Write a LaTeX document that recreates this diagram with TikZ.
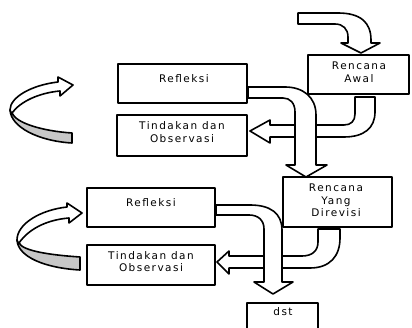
\documentclass[tikz,border=0pt]{standalone}
\usepackage{fontspec}
\setmainfont{DejaVu Sans}[LetterSpace=14]
\begin{document}
\begin{tikzpicture}[x=1pt,y=-1pt,line width=1.6pt,line join=round,
  boxnode/.style={draw,fill=white,inner sep=0pt,line width=1.6pt},
  txt/.style={align=center,inner sep=0pt,text=black,font=\fontsize{10.5}{12.5}\selectfont},
  blk/.style={draw,fill=white,line width=1.6pt},
  back/.style={draw,fill=black!22,line width=1.6pt}]
\useasboundingbox (0,0) rectangle (412,328);
\begin{scope}
\clip (0,0) rectangle (412,328);
% boxes
\node[boxnode,minimum width=101,minimum height=39] (ra) at (358.5,74.5) {};
\node[boxnode,minimum width=129,minimum height=39] (r1) at (182.5,83.5) {};
\node[boxnode,minimum width=130,minimum height=41] (t1) at (182,135.5) {};
\node[boxnode,minimum width=109,minimum height=50] (rd) at (337.5,202) {};
\node[boxnode,minimum width=128,minimum height=39] (r2) at (151,207.5) {};
\node[boxnode,minimum width=128,minimum height=40] (t2) at (151,265) {};
\node[boxnode,minimum width=71,minimum height=40,anchor=north] (ds) at (282.5,302) {};
% texts
\node[txt] (rat) at (359,72.5) {Rencana\\Awal};
\node[txt] (r1t) at (184,79) {Refleksi};
\node[txt] (t1t) at (182,132) {Tindakan dan\\Observasi};
\node[txt] (rdt) at (336,200.5) {Rencana\\Yang\\Direvisi};
\node[txt] (r2t) at (151,203) {Refleksi};
\node[txt] (t2t) at (151,261.5) {Tindakan dan\\Observasi};
\node[txt] (dst) at (283,312) {dst};
% arrow into Rencana Awal
\draw[blk] (298,13) -- (338,13) .. controls (360,13) and (371,22) .. (371,40) -- (371,43) -- (380,43) -- (361,53) -- (341,43) -- (348,43) -- (348,37) .. controls (348,29) and (343,24) .. (335,24) -- (298,24) -- cycle;
% Rencana Awal -> Tindakan 1
\draw[blk] (355,97) -- (355,114) .. controls (355,121) and (351,125) .. (344,125) -- (270,125) -- (270,120) -- (250,131) -- (270,143) -- (270,137) -- (344,137) .. controls (364,137) and (375,128) .. (375,112) -- (375,97) -- cycle;
% Refleksi 1 -> Rencana Yang Direvisi
\draw[blk] (248,87) -- (285,87) .. controls (303,87) and (316,97) .. (316,115) -- (316,165) -- (327,165) -- (306,177) -- (286,165) -- (295,165) -- (295,112) .. controls (295,103) and (290,98) .. (283,98) -- (248,98) -- cycle;
% Rencana Yang Direvisi -> Tindakan 2
\draw[blk] (318,229) -- (318,242) .. controls (318,251) and (312,256) .. (302,256) -- (229,256) -- (229,251) -- (217,262) -- (229,274) -- (229,268) -- (310,268) .. controls (330,268) and (340,256) .. (340,238) -- (340,229) -- cycle;
% Refleksi 2 -> dst
\draw[blk] (216,205) -- (250,205) .. controls (270,205) and (282,213) .. (282,230) -- (282,282) -- (293,282) -- (273,294) -- (254,282) -- (264,282) -- (264,229) .. controls (264,220) and (258,215) .. (249,215) -- (216,215) -- cycle;
% curved arrow 1
\draw[back] (10,110) .. controls (11,127) and (38,141) .. (72,143) -- (72,133) .. controls (42,131) and (16,123) .. (12,113) -- cycle;
\draw[blk] (58,82) .. controls (32,85) and (10,97) .. (10,110) .. controls (10,111) and (11,112) .. (12,113) .. controls (20,102) and (38,93) .. (60,91) -- (60,96) -- (73,85) -- (58,77) -- cycle;
% curved arrow 2
\draw[back] (17,240) .. controls (18,257) and (45,268) .. (80,270) -- (80,257) .. controls (50,255) and (23,251) .. (19,243) -- cycle;
\draw[blk] (67,207) .. controls (40,210) and (17,224) .. (17,240) .. controls (17,241) and (18,242) .. (19,243) .. controls (28,230) and (45,220) .. (69,218) -- (69,223) -- (82,213) -- (67,203) -- cycle;
\end{scope}
\end{tikzpicture}
\end{document}
